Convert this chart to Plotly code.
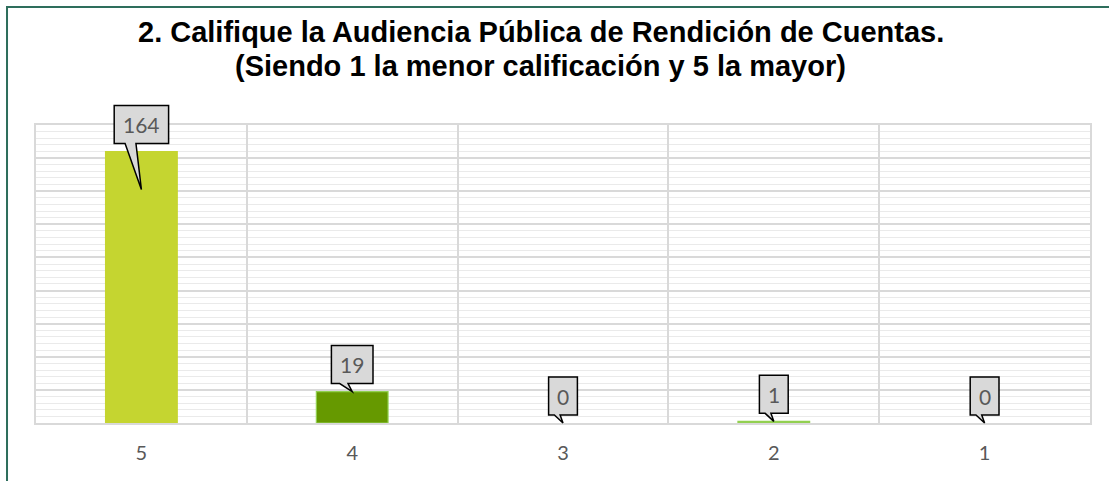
import plotly.graph_objects as go

# ---- data ----
categories = ["5", "4", "3", "2", "1"]
counts = [164, 19, 0, 1, 0]
y_max = 180
y_step = 20
title_line1 = "2. Califique la Audiencia Pública de Rendición de Cuentas."
title_line2 = "(Siendo 1 la menor calificación y 5 la mayor)"

# ---- styles ----
bar_fill = ["#C5D530", "#669900", "#92D050", "#92D050", "#92D050"]
bar_line = ["#C5D530", "#92D050", "#92D050", "#92D050", "#92D050"]
tip_drop = {"5": 38}  # callout pointer pushed into the bar (pixels)
label_font = dict(family="Lato, Carlito, sans-serif", size=21, color="#595959")

fig = go.Figure()
fig.add_trace(go.Bar(
    x=categories, y=counts, width=0.34,
    marker=dict(color=bar_fill,
                line=dict(color=bar_line, width=[1.2 if v > 0 else 0 for v in counts])),
    hoverinfo="skip",
))

shapes = []
annotations = []
for i, (cat, v) in enumerate(zip(categories, counts)):
    n = len(str(v))
    w = 16 + 12.8 * n
    half = w / 2
    top, bottom = 46, 8
    drop = tip_drop.get(cat, 0)
    wl, wr = -0.30 * w, -0.10 * w
    path = (f"M {-half} {top} L {half} {top} L {half} {bottom} L {wr} {bottom} "
            f"L 0 {-drop} L {wl} {bottom} L {-half} {bottom} Z")
    shapes.append(dict(
        type="path", xref="x", yref="paper", xsizemode="pixel", ysizemode="pixel",
        xanchor=i, yanchor=v / y_max, path=path,
        fillcolor="#D9D9D9", line=dict(color="#000000", width=1.5), layer="above",
    ))
    annotations.append(dict(
        x=i, y=v, xref="x", yref="y", text=str(v), showarrow=False,
        yshift=(top + bottom) / 2, font=label_font, xanchor="center", yanchor="middle",
    ))

# outer frame
shapes.append(dict(type="rect", xref="paper", yref="paper",
                   x0=-0.0275, x1=1.03, y0=-0.25, y1=1.396,
                   line=dict(color="#2E6E5C", width=2), fillcolor="rgba(0,0,0,0)", layer="below"))

title_font = dict(family="Liberation Sans, Arial, sans-serif", size=29, color="#000000")
annotations.append(dict(x=0.479, y=1.312, xref="paper", yref="paper", text=f"<b>{title_line1}</b>",
                        showarrow=False, font=title_font, xanchor="center", yanchor="middle"))
annotations.append(dict(x=0.479, y=1.199, xref="paper", yref="paper", text=f"<b>{title_line2}</b>",
                        showarrow=False, font=title_font, xanchor="center", yanchor="middle"))

fig.update_layout(
    width=1109, height=481,
    margin=dict(l=36, r=19, t=125, b=58),
    paper_bgcolor="white", plot_bgcolor="white",
    showlegend=False, hovermode=False,
    shapes=shapes, annotations=annotations,
    xaxis=dict(
        type="category", tickson="boundaries", showgrid=True, gridcolor="#D9D9D9", gridwidth=1.5,
        ticks="", showline=True, mirror=True, linecolor="#D9D9D9", linewidth=1.5,
        tickfont=dict(family="Lato, Carlito, sans-serif", size=20, color="#595959"),
        ticklabelstandoff=11, zeroline=False,
    ),
    yaxis=dict(
        range=[0, y_max], dtick=y_step, showgrid=True, gridcolor="#D9D9D9", gridwidth=1.5,
        showticklabels=False, ticks="", zeroline=False,
        showline=True, mirror=True, linecolor="#D9D9D9", linewidth=1.5,
        minor=dict(dtick=y_step / 5, showgrid=True, gridcolor="#EAEAEA", gridwidth=1),
    ),
)

fig.write_html("out.html", config={"displayModeBar": False},
               post_script="document.body.style.margin='0';")
